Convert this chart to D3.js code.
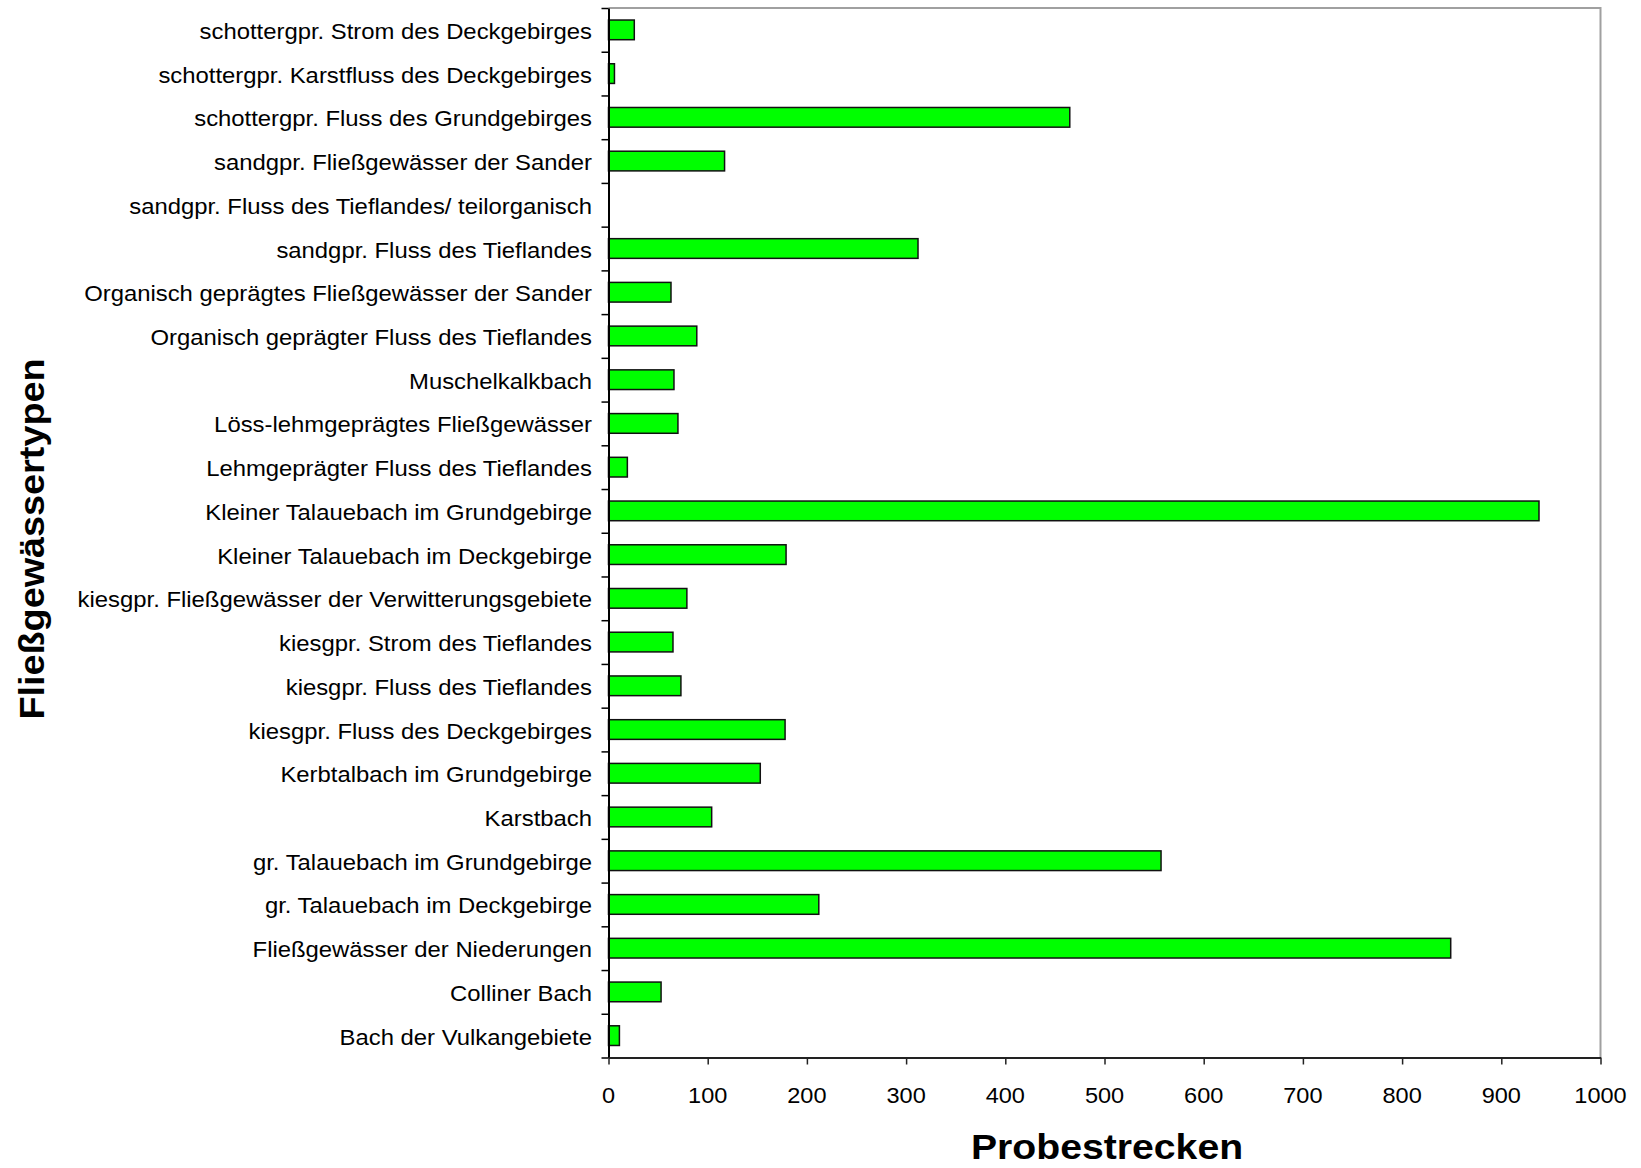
<!DOCTYPE html>
<html lang="de">
<head>
<meta charset="utf-8">
<title>Probestrecken je Fließgewässertyp</title>
<script src="https://cdn.jsdelivr.net/npm/d3@7"></script>
<style>
  body { margin: 0; background: #fff; }
  svg { display: block; font-family: Arial, "Liberation Sans", sans-serif; }
</style>
</head>
<body>
<div id="chart"></div>
<script>
// Categories, top to bottom as drawn
const categories = [
  'schottergpr. Strom des Deckgebirges',
  'schottergpr. Karstfluss des Deckgebirges',
  'schottergpr. Fluss des Grundgebirges',
  'sandgpr. Fließgewässer der Sander',
  'sandgpr. Fluss des Tieflandes/ teilorganisch',
  'sandgpr. Fluss des Tieflandes',
  'Organisch geprägtes Fließgewässer der Sander',
  'Organisch geprägter Fluss des Tieflandes',
  'Muschelkalkbach',
  'Löss-lehmgeprägtes Fließgewässer',
  'Lehmgeprägter Fluss des Tieflandes',
  'Kleiner Talauebach im Grundgebirge',
  'Kleiner Talauebach im Deckgebirge',
  'kiesgpr. Fließgewässer der Verwitterungsgebiete',
  'kiesgpr. Strom des Tieflandes',
  'kiesgpr. Fluss des Tieflandes',
  'kiesgpr. Fluss des Deckgebirges',
  'Kerbtalbach im Grundgebirge',
  'Karstbach',
  'gr. Talauebach im Grundgebirge',
  'gr. Talauebach im Deckgebirge',
  'Fließgewässer der Niederungen',
  'Colliner Bach',
  'Bach der Vulkangebiete'
];

// Number of sampling sites per type
const probestrecken = [
  26, 6, 465, 117, 0, 312, 63, 89, 66, 70, 19, 938,
  179, 79, 65, 73, 178, 153, 104, 557, 212, 849, 53, 11
];

const xTicks = [0, 100, 200, 300, 400, 500, 600, 700, 800, 900, 1000];
const xTitle = 'Probestrecken';
const yTitle = 'Fließgewässertypen';

const W = 1641;
const H = 1168;
const plot = { left: 608.5, right: 1600.5, top: 8, bottom: 1057.5 };

const svg = d3.select('#chart')
  .append('svg')
  .attr('width', W)
  .attr('height', H);

const data = categories.map((name, i) => ({ name, value: probestrecken[i] }));

// Scales
const x = d3.scaleLinear()
  .domain([0, 1000])
  .range([plot.left, plot.right]);

const y = d3.scaleBand()
  .domain(categories)
  .range([plot.top, plot.bottom])
  .paddingInner(0.55)
  .paddingOuter(0.275);

// boundary ticks on the category axis sit between the rows
const yEdges = d3.scaleLinear()
  .domain([0, categories.length])
  .range([plot.top, plot.bottom]);

// Plot frame (top and right are grey)
svg.append('path')
  .attr('d', `M${plot.left},${plot.top}H${plot.right}V${plot.bottom}`)
  .attr('fill', 'none')
  .attr('stroke', '#a0a0a0')
  .attr('stroke-width', 2);

// Bars
svg.selectAll('.bar')
  .data(data)
  .enter()
  .append('rect')
  .attr('class', 'bar')
  .attr('x', x(0))
  .attr('y', (d) => y(d.name))
  .attr('width', (d) => x(d.value) - x(0))
  .attr('height', y.bandwidth())
  .attr('fill', '#00ff00')
  .attr('stroke', (d) => (d.value > 0 ? '#111' : 'none'))
  .attr('stroke-width', 1.5);

// Y axis: line and boundary ticks
const yAxis = svg.append('g')
  .attr('transform', `translate(${plot.left},0)`)
  .call(d3.axisLeft(yEdges)
    .tickValues(d3.range(categories.length + 1))
    .tickSize(7)
    .tickSizeOuter(0)
    .tickFormat(''));
yAxis.select('.domain').attr('stroke', '#000').attr('stroke-width', 2);
yAxis.selectAll('.tick line').attr('stroke', '#000').attr('stroke-width', 1.5);

// Category labels (slightly wider than regular Arial)
svg.append('g')
  .selectAll('g')
  .data(categories)
  .enter()
  .append('g')
  .attr('transform', (d) => `translate(592,${y(d) + y.bandwidth() / 2 + 9})`)
  .append('text')
  .attr('transform', 'scale(1.11,1)')
  .attr('text-anchor', 'end')
  .attr('font-size', 21.5)
  .attr('fill', '#000')
  .text((d) => d);

// X axis
const xAxis = svg.append('g')
  .attr('transform', `translate(0,${plot.bottom})`)
  .call(d3.axisBottom(x)
    .tickValues(xTicks)
    .tickSize(7)
    .tickSizeOuter(0)
    .tickFormat(''));
xAxis.select('.domain').attr('stroke', '#222').attr('stroke-width', 2);
xAxis.selectAll('.tick line').attr('stroke', '#222').attr('stroke-width', 1.5);

// Tick labels
svg.append('g')
  .selectAll('g')
  .data(xTicks)
  .enter()
  .append('g')
  .attr('transform', (d) => `translate(${x(d)},1103)`)
  .append('text')
  .attr('transform', 'scale(1.07,1)')
  .attr('text-anchor', 'middle')
  .attr('font-size', 22)
  .attr('fill', '#000')
  .text((d) => d);

// Axis titles
svg.append('g')
  .attr('transform', 'translate(1107,1159)')
  .append('text')
  .attr('transform', 'scale(1.12,1)')
  .attr('text-anchor', 'middle')
  .attr('font-size', 35)
  .attr('font-weight', 'bold')
  .attr('fill', '#000')
  .text(xTitle);

svg.append('g')
  .attr('transform', 'translate(43.5,539) rotate(-90)')
  .append('text')
  .attr('transform', 'scale(1.08,1)')
  .attr('text-anchor', 'middle')
  .attr('font-size', 35)
  .attr('font-weight', 'bold')
  .attr('fill', '#000')
  .text(yTitle);
</script>
</body>
</html>
